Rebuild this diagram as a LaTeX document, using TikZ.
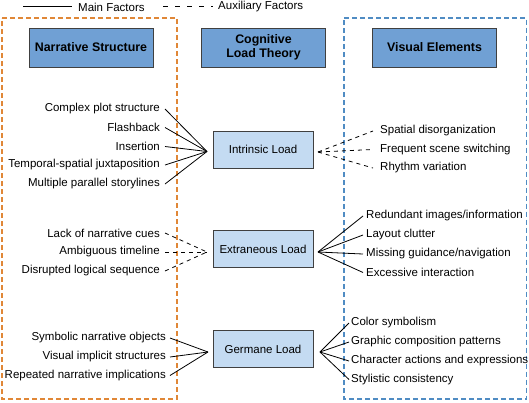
\documentclass[tikz,border=0pt]{standalone}
\usepackage{fontspec}
\setmainfont{Liberation Sans}
\definecolor{headblue}{RGB}{112,160,212}
\definecolor{loadblue}{RGB}{196,219,242}
\definecolor{frameorange}{RGB}{224,135,55}
\definecolor{frameblue}{RGB}{80,140,195}
\tikzset{
  headbox/.style={draw=black!75,line width=0.8pt,fill=headblue,minimum width=124pt,minimum height=39pt,inner sep=0pt,font=\fontsize{12.4}{14.5}\selectfont\bfseries,align=center},
  loadbox/.style={draw=black!75,line width=0.8pt,fill=loadblue,minimum width=100pt,minimum height=37pt,inner sep=0pt,font=\fontsize{11.5}{13}\selectfont},
  lab/.style={font=\fontsize{11.5}{13}\selectfont,inner ysep=1pt,inner xsep=0pt},
  mainline/.style={draw=black,line width=0.8pt},
  auxline/.style={draw=black,line width=0.8pt,dash pattern=on 4pt off 4pt},
  legsolid/.style={draw=black,line width=0.8pt},
  legdash/.style={draw=black,line width=0.8pt,dash pattern=on 5pt off 7pt},
  orangebox/.style={color=frameorange,line width=1.5pt,dash pattern=on 5pt off 3pt},
  bluebox/.style={color=frameblue,line width=1.5pt,dash pattern=on 5pt off 3pt}
}
\begin{document}
\begin{tikzpicture}[x=1pt,y=-1pt]
\useasboundingbox (0,0) rectangle (529,402);

% frames
\draw[orangebox] (2,18) -- (177,18) -- (177,399) -- (2,399) -- cycle;
\draw[bluebox] (344,18) -- (526.5,18) -- (526.5,399) -- (344,399) -- cycle;

% legend
\coordinate (ls1) at (23,6.5); \coordinate (ls2) at (72,6.5);
\draw[legsolid] (ls1) -- (ls2);
\node[lab,anchor=west] (lmain) at (78,7) {Main Factors};
\coordinate (ld1) at (163,6.5); \coordinate (ld2) at (213,6.5);
\draw[legdash] (ld1) -- (ld2);
\node[lab,anchor=west] (laux) at (218,7) {Auxiliary Factors};

% headers
\node[headbox] (hns) at (91,47.5) {Narrative Structure};
\node[headbox] (hcl) at (263.5,47.5) {Cognitive\\Load Theory};
\node[headbox] (hve) at (434.5,47.5) {Visual Elements};

% load boxes
\node[loadbox] (il) at (263,149.5) {Intrinsic Load};
\node[loadbox] (el) at (263,249) {Extraneous Load};
\node[loadbox] (gl) at (263,349) {Germane Load};

% convergence points
\coordinate (ilw) at (207,151.5);
\coordinate (ile) at (318,152);
\coordinate (elw) at (207,252);
\coordinate (ele) at (318,252);
\coordinate (glw) at (208,352);
\coordinate (gle) at (320,352);

% intrinsic left
\node[lab,anchor=east] (a1) at (160,109) {Complex plot structure};
\node[lab,anchor=east] (a2) at (160,127.5) {Flashback};
\node[lab,anchor=east] (a3) at (160,146.5) {Insertion};
\node[lab,anchor=east] (a4) at (160,165) {Temporal-spatial juxtaposition};
\node[lab,anchor=east] (a5) at (160,184) {Multiple parallel storylines};
\foreach \n in {a1,a2,a3,a4,a5}
  \draw[mainline] ([xshift=5pt]\n.east) -- (ilw);

% intrinsic right
\node[lab,anchor=west] (b1) at (380,131) {Spatial disorganization};
\node[lab,anchor=west] (b2) at (380,149.5) {Frequent scene switching};
\node[lab,anchor=west] (b3) at (380,168) {Rhythm variation};
\foreach \n in {b1,b2,b3}
  \draw[auxline] (ile) -- ([xshift=-7pt]\n.west);

% extraneous left
\node[lab,anchor=east] (c1) at (160,233) {Lack of narrative cues};
\node[lab,anchor=east] (c2) at (160,252) {Ambiguous timeline};
\node[lab,anchor=east] (c3) at (160,271) {Disrupted logical sequence};
\foreach \n in {c1,c2,c3}
  \draw[auxline] ([xshift=5pt]\n.east) -- (elw);

% extraneous right
\node[lab,anchor=west] (d1) at (366,216) {Redundant images/information};
\node[lab,anchor=west] (d2) at (366,235) {Layout clutter};
\node[lab,anchor=west] (d3) at (366,254) {Missing guidance/navigation};
\node[lab,anchor=west] (d4) at (366,272.5) {Excessive interaction};
\foreach \n in {d1,d2,d3,d4}
  \draw[mainline] (ele) -- ([xshift=-3pt]\n.west);

% germane left
\node[lab,anchor=east] (e1) at (166,338) {Symbolic narrative objects};
\node[lab,anchor=east] (e2) at (166,357) {Visual implicit structures};
\node[lab,anchor=east] (e3) at (166,375.5) {Repeated narrative implications};
\foreach \n in {e1,e2,e3}
  \draw[mainline] ([xshift=4pt]\n.east) -- (glw);

% germane right
\node[lab,anchor=west] (f1) at (351,323) {Color symbolism};
\node[lab,anchor=west] (f2) at (351,342) {Graphic composition patterns};
\node[lab,anchor=west] (f3) at (351,361) {Character actions and expressions};
\node[lab,anchor=west] (f4) at (351,379.5) {Stylistic consistency};
\foreach \n in {f1,f2,f3,f4}
  \draw[mainline] (gle) -- ([xshift=-2pt]\n.west);
\end{tikzpicture}
\end{document}
